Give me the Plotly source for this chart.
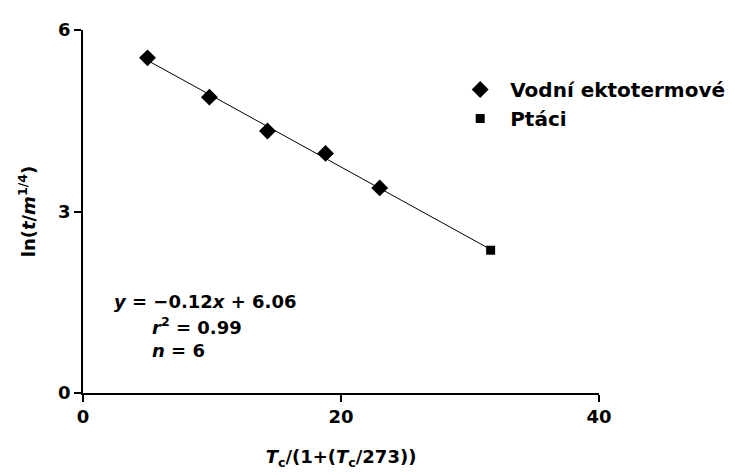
import numpy as np
import plotly.graph_objects as go

# Data
ecto_x = [5.0, 9.8, 14.3, 18.8, 23.0]
ecto_y = [5.54, 4.89, 4.33, 3.96, 3.39]
bird_x = [31.6]
bird_y = [2.36]
fit_x = [5.0, 31.6]

all_x = np.array(ecto_x + bird_x)
all_y = np.array(ecto_y + bird_y)
slope, intercept = np.polyfit(all_x, all_y, 1)
fit_y = [slope * v + intercept for v in fit_x]

FONT = "DejaVu Sans"

fig = go.Figure()
fig.add_trace(go.Scatter(x=fit_x, y=fit_y, mode="lines",
                         line=dict(color="black", width=1), showlegend=False,
                         hoverinfo="skip"))
fig.add_trace(go.Scatter(x=ecto_x, y=ecto_y, mode="markers",
                         name="\u2002<b>Vodní ektotermové</b>",
                         marker=dict(symbol="diamond", size=13, color="black")))
fig.add_trace(go.Scatter(x=bird_x, y=bird_y, mode="markers", name="\u2002<b>Ptáci</b>",
                         marker=dict(symbol="square", size=9, color="black")))

axis_common = dict(showline=True, linecolor="black", linewidth=1.5, showgrid=False,
                   zeroline=False, ticks="outside", ticklen=7, tickwidth=1.5,
                   tickcolor="black", tickfont=dict(family=FONT, size=18, color="black"))

fig.update_xaxes(range=[0, 40], tickvals=[0, 20, 40], ticktext=["<b>0</b>", "<b>20</b>", "<b>40</b>"],
                 title=dict(text="<b><i>T</i><sub>c</sub>/(1+(<i>T</i><sub>c</sub>/273))</b>",
                            font=dict(family=FONT, size=18, color="black"), standoff=24),
                 **axis_common)
fig.update_yaxes(range=[0, 6], tickvals=[0, 3, 6], ticktext=["<b>0</b>", "<b>3</b>", "<b>6</b>"],
                 title=dict(text="<b>ln(<i>t</i>/<i>m</i><sup>1/4</sup>)</b>",
                            font=dict(family=FONT, size=18, color="black"), standoff=18),
                 **axis_common)

ann_font = dict(family=FONT, size=18, color="black")
fig.add_annotation(x=0.056, y=0.2515, xref="paper", yref="paper", xanchor="left", yanchor="middle",
                   text="<b><i>y</i> = −0.12<i>x</i> + 6.06</b>", showarrow=False, font=ann_font)
fig.add_annotation(x=0.130, y=0.1846, xref="paper", yref="paper", xanchor="left", yanchor="middle",
                   text="<b><i>r</i><sup>2</sup> = 0.99</b>", showarrow=False, font=ann_font)
fig.add_annotation(x=0.130, y=0.1165, xref="paper", yref="paper", xanchor="left", yanchor="middle",
                   text="<b><i>n</i> = 6</b>", showarrow=False, font=ann_font)

fig.update_layout(
    width=735, height=475,
    margin=dict(l=83, r=136, t=30, b=82, autoexpand=False),
    paper_bgcolor="white", plot_bgcolor="white",
    legend=dict(x=0.731, y=0.89, xanchor="left", yanchor="top",
                font=dict(family=FONT, size=20, color="black"),
                bgcolor="rgba(0,0,0,0)", tracegroupgap=0, itemwidth=30),
)

fig.write_html("out.html")
